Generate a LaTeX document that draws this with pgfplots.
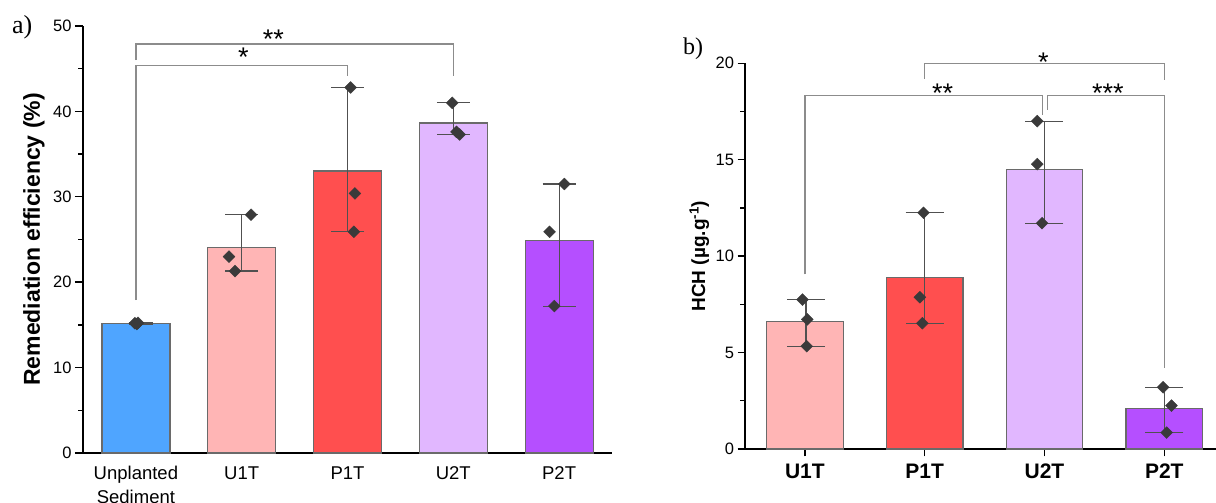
\documentclass[border=0pt]{standalone}
\usepackage{pgfplots}
\pgfplotsset{compat=1.18}
\usepackage{fontspec}
\setmainfont{Liberation Sans}
\newfontfamily\panelfont{Liberation Serif}

\definecolor{cUnpl}{HTML}{4FA5FF}
\definecolor{cUone}{HTML}{FFB5B5}
\definecolor{cPone}{HTML}{FF4F4F}
\definecolor{cUtwo}{HTML}{E1B7FF}
\definecolor{cPtwo}{HTML}{B54FFF}
\definecolor{barEdge}{HTML}{6A6A6A}
\definecolor{errCol}{HTML}{505050}
\definecolor{ptCol}{HTML}{3A3A3A}
\definecolor{brkCol}{HTML}{8C8C8C}

\tikzset{stars/.style={anchor=base, inner sep=0pt, font=\fontsize{27}{27}\selectfont}}

\pgfplotsset{
  panel/.style={
    scale only axis,
    axis x line*=bottom, axis y line*=left,
    axis line style={line width=1.6pt, -},
    tick style={black, line width=1.4pt},
    tick align=outside,
    major tick length=8pt, minor tick length=5pt,
    /pgf/number format/assume math mode=true,
    clip=false,
  },
  bars/.style={ybar, bar shift=0pt, draw=barEdge, line width=1.2pt, forget plot},
  errs/.style={draw=none, mark=none, forget plot,
    error bars/.cd, y dir=both, y explicit, error mark=|,
    error bar style={draw=errCol, line width=1.2pt},
    error mark options={draw=errCol, line width=1.2pt, mark size=#1}},
  pts/.style={only marks, mark=square*, mark size=4.2pt,
    mark options={rotate=45, fill=ptCol, draw=ptCol, line width=0.4pt}, forget plot},
  bracket/.style={draw=brkCol, line width=1.2pt, mark=none, forget plot},
}

\begin{document}
\begin{tikzpicture}

% ---------- (a) remediation efficiency ----------
\begin{axis}[panel,
  at={(83pt,50pt)}, anchor=south west,
  width=529pt, height=427pt,
  xmin=-0.5, xmax=4.5, ymin=0, ymax=50,
  ytick={0,10,...,50}, minor y tick num=1,
  xtick={0,...,4},
  xticklabels={{Unplanted\\Sediment},U1T,P1T,U2T,P2T},
  xtick style={draw=none},
  xticklabel style={align=center, font=\fontsize{18.5}{23.5}\selectfont, yshift=-2pt},
  yticklabel style={font=\fontsize{16.5}{19}\selectfont},
  ylabel={Remediation efficiency (\%)},
  ylabel style={at={(axis description cs:-0.0813,0.5)}, anchor=base,
    font=\bfseries\fontsize{23}{23}\selectfont},
]
\addplot[bars, bar width=68pt, fill=cUnpl] coordinates {(0,15.18)};
\addplot[bars, bar width=68pt, fill=cUone] coordinates {(1,24.07)};
\addplot[bars, bar width=68pt, fill=cPone] coordinates {(2,33.03)};
\addplot[bars, bar width=68pt, fill=cUtwo] coordinates {(3,38.63)};
\addplot[bars, bar width=68pt, fill=cPtwo] coordinates {(4,24.87)};

% significance brackets
\addplot[bracket] coordinates {(0,46.0) (0,47.9) (3,47.9) (3,44.1)};
\addplot[bracket] coordinates {(0,17.9) (0,45.4) (2,45.4) (2,44.1)};
\node[stars] at (axis cs:1.30,47.35) {**};
\node[stars] at (axis cs:1.015,45.2) {*};

% range of replicates
\addplot[errs=12pt] coordinates {(0.045,15.18) += (0,0.07) -= (0,0.08)};
\addplot[errs=16.5pt] coordinates {
  (1,24.07) += (0,3.83) -= (0,2.77)
  (2,33.03) += (0,9.77) -= (0,7.13)
  (3,38.63) += (0,2.37) -= (0,1.33)
  (4,24.87) += (0,6.63) -= (0,7.67)
};
% replicates
\addplot[pts] coordinates {
  (-0.01,15.2) (0.01,15.1) (0.02,15.25)
  (1.088,27.9) (0.88,23.0) (0.937,21.3)
  (2.03,42.8) (2.07,30.4) (2.06,25.9)
  (2.99,41.0) (3.03,37.6) (3.06,37.3)
  (4.05,31.5) (3.91,25.9) (3.955,17.2)
};
\end{axis}

% ---------- (b) HCH ----------
\begin{axis}[panel,
  at={(745pt,54pt)}, anchor=south west,
  width=471pt, height=385.7pt,
  xmin=-0.5, xmax=3.432, ymin=0, ymax=20,
  ytick={0,5,...,20}, minor y tick num=1,
  xtick={0,...,3},
  xticklabels={U1T,P1T,U2T,P2T},
  x tick label style={font=\bfseries\fontsize{21}{24}\selectfont, yshift=-4pt},
  yticklabel style={font=\fontsize{16.5}{19}\selectfont},
  major tick length=7.5pt, minor tick length=5pt,
  ylabel={HCH (µg.g\textsuperscript{-1})},
  ylabel style={at={(axis description cs:-0.0849,0.5)}, anchor=base,
    font=\bfseries\fontsize{19}{19}\selectfont},
]
\addplot[bars, bar width=76.5pt, fill=cUone] coordinates {(0,6.60)};
\addplot[bars, bar width=76.5pt, fill=cPone] coordinates {(1,8.88)};
\addplot[bars, bar width=76.5pt, fill=cUtwo] coordinates {(2,14.49)};
\addplot[bars, bar width=76.5pt, fill=cPtwo] coordinates {(3,2.10)};

% significance brackets
\addplot[bracket] coordinates {(1,19.19) (1,19.98) (3,19.98) (3,19.14)};
\addplot[bracket] coordinates {(0,9.06) (0,18.33) (1.985,18.33) (1.985,17.3)};
\addplot[bracket] coordinates {(2.025,17.6) (2.025,18.33) (3,18.33) (3,4.19)};
\node[stars] at (axis cs:1.99,19.55) {*};
\node[stars] at (axis cs:1.15,17.98) {**};
\node[stars] at (axis cs:2.53,17.98) {***};

% range of replicates
\addplot[errs=19pt] coordinates {
  (0.01,6.60) += (0,1.15) -= (0,1.27)
  (1,8.88) += (0,3.37) -= (0,2.36)
  (2,14.49) += (0,2.51) -= (0,2.78)
  (3,2.10) += (0,1.10) -= (0,1.25)
};
% replicates
\addplot[pts] coordinates {
  (-0.02,7.75) (0.02,6.72) (0.015,5.33)
  (0.99,12.25) (0.96,7.87) (0.98,6.52)
  (1.94,17.0) (1.94,14.77) (1.98,11.71)
  (2.99,3.2) (3.06,2.25) (3.02,0.85)
};
\end{axis}

% panel letters
\node[anchor=base west, inner sep=0pt, font=\panelfont\fontsize{26}{26}\selectfont] at (12pt,469pt) {a)};
\node[anchor=base west, inner sep=0pt, font=\panelfont\fontsize{24}{24}\selectfont] at (683pt,448pt) {b)};

\pgfresetboundingbox
\useasboundingbox (0pt,0pt) rectangle (1216pt,503pt);
\end{tikzpicture}
\end{document}
